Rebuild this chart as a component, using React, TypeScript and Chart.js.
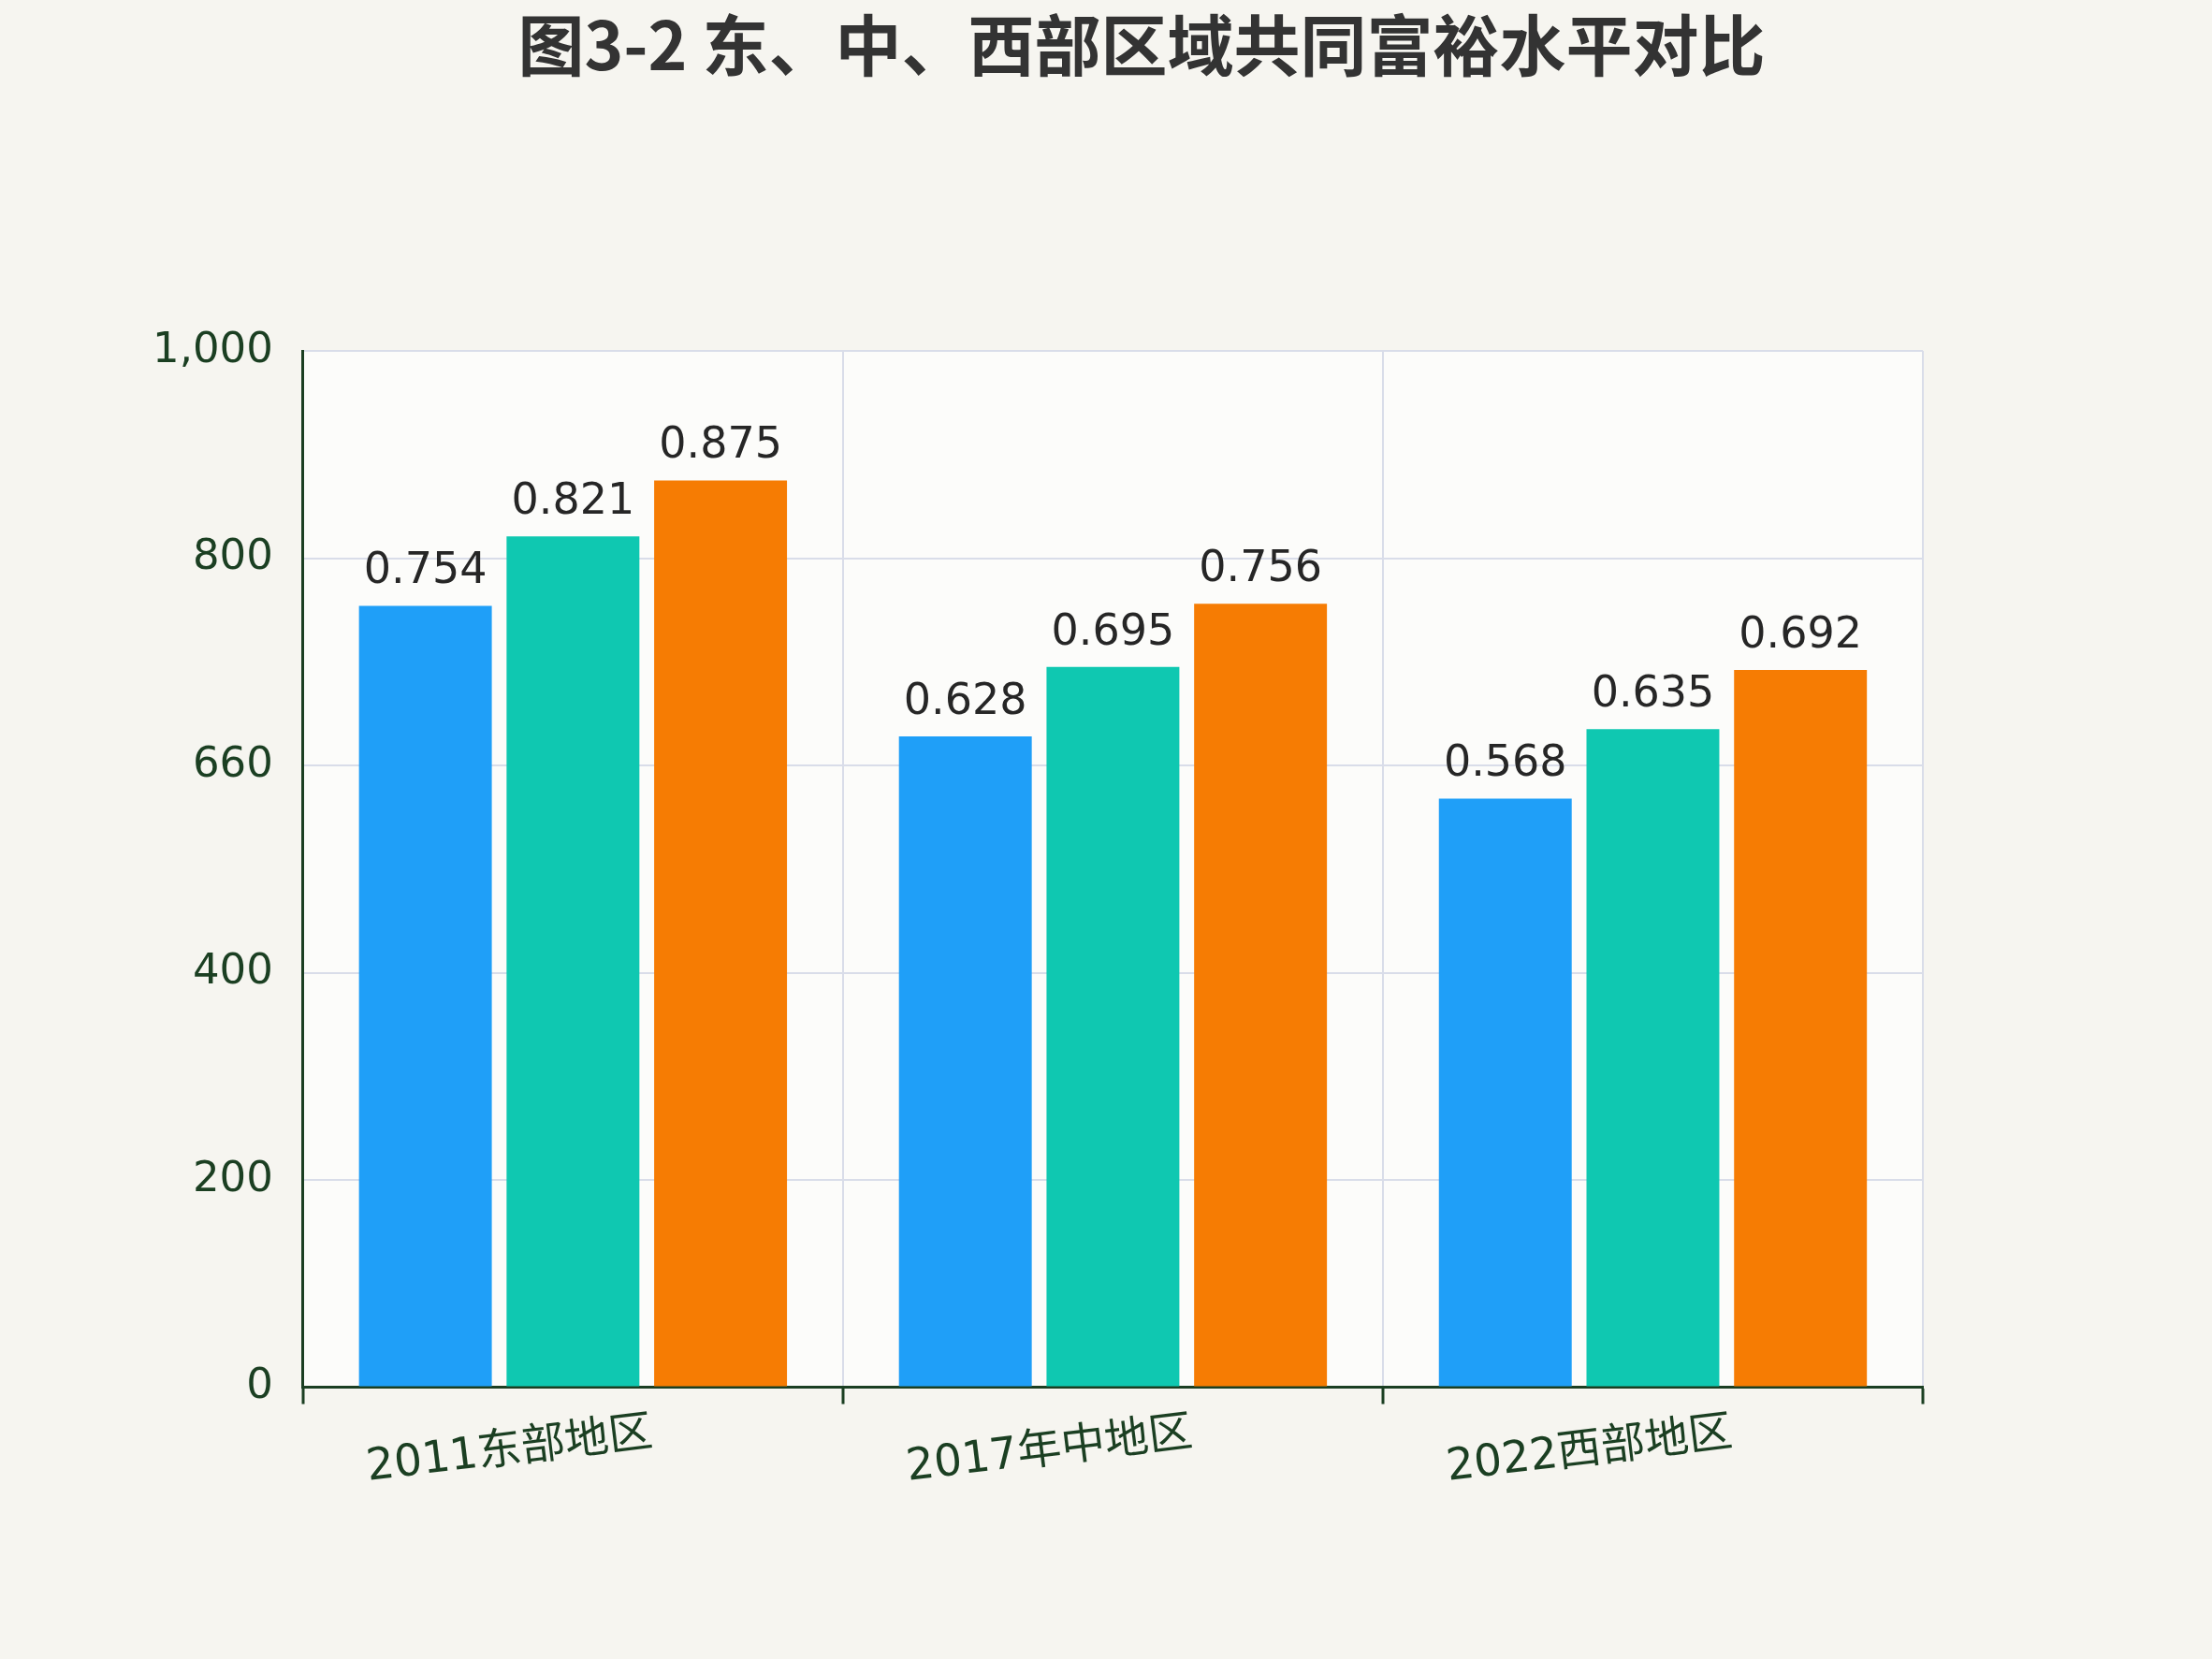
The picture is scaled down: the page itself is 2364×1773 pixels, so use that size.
import { useEffect, useRef } from "react"
import { Chart, registerables } from "chart.js"

Chart.register(...registerables)

const titleText = "图3-2 东、中、西部区域共同富裕水平对比"
const categories = ["2011东部地区", "2017年中地区", "2022西部地区"]
const seriesA = [0.754, 0.628, 0.568]
const seriesB = [0.821, 0.695, 0.635]
const seriesC = [0.875, 0.756, 0.692]
const tickLabels = ["0", "200", "400", "660", "800", "1,000"]

const seriesColors = ["#1f9ff8", "#0fc8b1", "#f67c03"]
const axisGreen = "#1b3f22"
const gridColor = "#d9dde9"

// paints page + plot background, title and the value labels
const decorPlugin = {
  id: "decor",
  beforeDraw(chart: Chart) {
    const { ctx, chartArea, width, height } = chart
    ctx.save()
    ctx.fillStyle = "#f6f5f0"
    ctx.fillRect(0, 0, width, height)
    ctx.fillStyle = "#fcfcfa"
    ctx.fillRect(chartArea.left, chartArea.top, chartArea.right - chartArea.left, chartArea.bottom - chartArea.top)
    ctx.restore()
  },
  afterDatasetsDraw(chart: Chart) {
    const { ctx } = chart
    ctx.save()
    ctx.font = "46px 'DejaVu Sans'"
    ctx.fillStyle = "#262626"
    ctx.textAlign = "center"
    ctx.textBaseline = "alphabetic"
    chart.data.datasets.forEach((ds, i) => {
      const meta = chart.getDatasetMeta(i)
      meta.data.forEach((bar: any, j: number) => {
        const v = ds.data[j] as number
        ctx.fillText(v.toFixed(3), bar.x, bar.y - 24)
      })
    })
    ctx.restore()
  },
  afterDraw(chart: Chart) {
    const { ctx } = chart
    ctx.save()
    ctx.font = "bold 71px 'Noto Sans CJK SC'"
    ctx.fillStyle = "#333333"
    ctx.textAlign = "center"
    ctx.textBaseline = "middle"
    ctx.fillText(titleText, 1220, 48)
    ctx.restore()
  },
}

export default function App() {
  const chartRef = useRef<HTMLCanvasElement>(null)
  const chartInstance = useRef<Chart | null>(null)

  useEffect(() => {
    if (!chartRef.current) return

    if (chartInstance.current) {
      chartInstance.current.destroy()
    }

    const ctx = chartRef.current.getContext("2d")
    if (!ctx) return

    chartInstance.current = new Chart(ctx, {
      type: "bar",
      data: {
        labels: categories,
        datasets: [
          { label: "A", data: seriesA, backgroundColor: seriesColors[0] },
          { label: "B", data: seriesB, backgroundColor: seriesColors[1] },
          { label: "C", data: seriesC, backgroundColor: seriesColors[2] },
        ],
      },
      options: {
        responsive: true,
        maintainAspectRatio: false,
        animation: false,
        devicePixelRatio: 1,
        layout: {
          padding: { top: 375, left: 131, right: 309, bottom: 171 },
        },
        datasets: {
          bar: { categoryPercentage: 0.82, barPercentage: 0.9 },
        },
        scales: {
          x: {
            grid: { color: gridColor, lineWidth: 2, tickColor: axisGreen, tickLength: 18, tickWidth: 3 },
            border: { color: axisGreen, width: 3 },
            ticks: {
              color: axisGreen,
              font: { family: "'DejaVu Sans', 'Noto Sans CJK SC'", size: 47 },
              minRotation: 7,
              maxRotation: 7,
              labelOffset: 85,
              padding: 4,
            },
          },
          y: {
            min: 0,
            max: 1,
            grid: { color: gridColor, lineWidth: 2, drawTicks: false },
            border: { color: axisGreen, width: 3 },
            ticks: {
              stepSize: 0.2,
              color: axisGreen,
              padding: 32,
              font: { family: "'DejaVu Sans'", size: 45 },
              callback: (_v, i) => tickLabels[i],
            },
          },
        },
        plugins: {
          legend: { display: false },
          tooltip: { enabled: false },
          title: { display: false },
        },
      },
      plugins: [decorPlugin],
    })

    return () => {
      if (chartInstance.current) {
        chartInstance.current.destroy()
      }
    }
  }, [])

  return (
    <div style={{ position: "absolute", top: 0, left: 0, width: "2364px", height: "1773px", background: "#f6f5f0" }}>
      <canvas ref={chartRef}></canvas>
    </div>
  )
}
